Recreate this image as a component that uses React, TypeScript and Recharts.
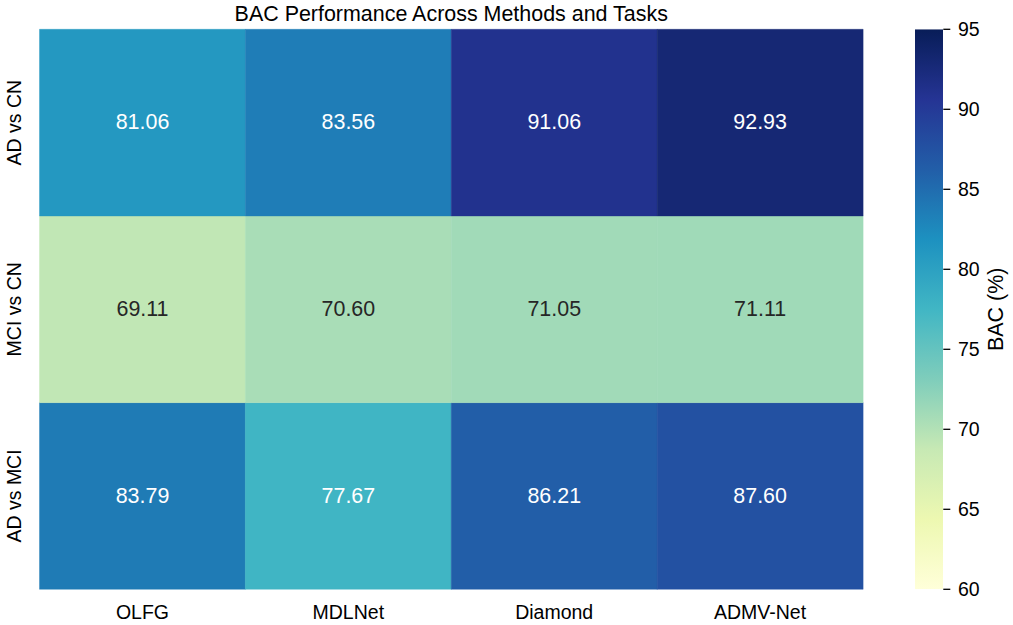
import React from 'react';
import { BarChart, Bar, XAxis, YAxis, Cell, LabelList, Label } from 'recharts';

// ---- data ----
const methods = ['OLFG', 'MDLNet', 'Diamond', 'ADMV-Net'];
const tasks = ['AD vs CN', 'MCI vs CN', 'AD vs MCI'];
const bacADvsCN = [81.06, 83.56, 91.06, 92.93];
const bacMCIvsCN = [69.11, 70.6, 71.05, 71.11];
const bacADvsMCI = [83.79, 77.67, 86.21, 87.6];
const colorbarTicks = [60, 65, 70, 75, 80, 85, 90, 95];
const vmin = 60;
const vmax = 95;
const title = 'BAC Performance Across Methods and Tasks';
const cbarLabel = 'BAC (%)';

// YlGnBu colormap anchor colours
const ylgnbu = ['#ffffd9', '#edf8b1', '#c7e9b4', '#7fcdbb', '#41b6c4', '#1d91c0', '#225ea8', '#253494', '#081d58'];

const FONT = '"Liberation Sans", Arial, Helvetica, sans-serif';

function hexToRgb(h: string): number[] {
  return [parseInt(h.slice(1, 3), 16), parseInt(h.slice(3, 5), 16), parseInt(h.slice(5, 7), 16)];
}
function colorRgb(v: number): number[] {
  let t = (v - vmin) / (vmax - vmin);
  t = Math.max(0, Math.min(1, t));
  const n = ylgnbu.length - 1;
  const i = Math.min(n - 1, Math.floor(t * n));
  const f = t * n - i;
  const a = hexToRgb(ylgnbu[i]);
  const b = hexToRgb(ylgnbu[i + 1]);
  return a.map((c, k) => c + (b[k] - c) * f);
}
function colorFor(v: number): string {
  const [r, g, b] = colorRgb(v);
  return `rgb(${Math.round(r)},${Math.round(g)},${Math.round(b)})`;
}
function textColorFor(v: number): string {
  const lin = colorRgb(v).map((c) => {
    const s = c / 255;
    return s <= 0.03928 ? s / 12.92 : Math.pow((s + 0.055) / 1.055, 2.4);
  });
  const L = 0.2126 * lin[0] + 0.7152 * lin[1] + 0.0722 * lin[2];
  return L > 0.408 ? '#262626' : '#ffffff';
}

const table = methods.map((m, i) => ({
  method: m,
  r0: bacADvsCN[i],
  r1: bacMCIvsCN[i],
  r2: bacADvsMCI[i],
  b0: 1,
  b1: 1,
  b2: 1,
}));

const cbData = [{ name: 'cbar', range: [vmin, vmax] }];

const ValueLabel = (props: any) => {
  const { x, y, width, height, value } = props;
  if (value == null) return null;
  return (
    <text
      x={Number(x) + Number(width) / 2}
      y={Number(y) + Number(height) / 2 + 6.8}
      textAnchor="middle"
      fontSize={21.45}
      fontFamily={FONT}
      fill={textColorFor(Number(value))}
    >
      {Number(value).toFixed(2)}
    </text>
  );
};

const YTick = (props: any) => {
  const { x, y, payload } = props;
  const idx = 2 - Math.floor(payload.value);
  return (
    <text
      transform={`translate(${x - 18.2},${y}) rotate(-90)`}
      textAnchor="middle"
      fontSize={19.5}
      fontFamily={FONT}
      fill="#000"
    >
      {tasks[idx]}
    </text>
  );
};

const XTick = (props: any) => {
  const { x, y, payload } = props;
  return (
    <text x={x} y={y + 29.7} textAnchor="middle" fontSize={19.5} fontFamily={FONT} fill="#000">
      {payload.value}
    </text>
  );
};

const CbLabel = (props: any) => {
  const vb = props.viewBox || {};
  const cx = (vb.x ?? 943.3) + 59.7;
  const cy = (vb.y ?? 29.3) + (vb.height ?? 560) / 2;
  return (
    <text
      transform={`translate(${cx},${cy}) rotate(-90)`}
      textAnchor="middle"
      fontSize={21.45}
      fontFamily={FONT}
      fill="#000"
    >
      {cbarLabel}
    </text>
  );
};

const rowBars = [
  { key: 'b2', val: 'r2' },
  { key: 'b1', val: 'r1' },
  { key: 'b0', val: 'r0' },
];

export default function App() {
  return (
    <div style={{ position: 'absolute', left: 0, top: 0, width: 1013, height: 625, background: '#fff', fontFamily: FONT }}>
      <div style={{ position: 'absolute', left: 0, top: 0 }}>
        <BarChart
          width={1013}
          height={625}
          data={table}
          margin={{ top: 29.3, right: 150, bottom: 0, left: 0 }}
          barCategoryGap={0}
          barGap={0}
        >
          <XAxis
            dataKey="method"
            type="category"
            height={35.7}
            axisLine={false}
            tickLine={false}
            tickSize={0}
            tickMargin={0}
            tick={<XTick />}
            interval={0}
          />
          <YAxis
            type="number"
            domain={[0, 3]}
            ticks={[0.5, 1.5, 2.5]}
            width={39.5}
            axisLine={false}
            tickLine={false}
            tickSize={0}
            tickMargin={0}
            tick={<YTick />}
            interval={0}
          />
          {rowBars.map((rb) => (
            <Bar key={rb.key} dataKey={rb.key} stackId="rows" isAnimationActive={false}>
              {table.map((d: any, i) => (
                <Cell key={i} fill={colorFor(d[rb.val])} stroke={colorFor(d[rb.val])} strokeWidth={0.4} />
              ))}
              <LabelList dataKey={rb.val} content={<ValueLabel />} />
            </Bar>
          ))}
        </BarChart>
      </div>
      <div style={{ position: 'absolute', left: 0, top: 0 }}>
        <BarChart
          width={1013}
          height={625}
          data={cbData}
          margin={{ top: 29.3, right: 0, bottom: 35.7, left: 915 }}
          barCategoryGap={0}
          barGap={0}
        >
          <defs>
            <linearGradient id="cbGrad" x1="0" y1="1" x2="0" y2="0">
              {ylgnbu.map((c, i) => (
                <stop key={i} offset={`${(i / (ylgnbu.length - 1)) * 100}%`} stopColor={c} />
              ))}
            </linearGradient>
          </defs>
          <XAxis dataKey="name" hide />
          <YAxis
            orientation="right"
            type="number"
            domain={[vmin, vmax]}
            ticks={colorbarTicks}
            width={69.7}
            axisLine={false}
            tickLine={{ stroke: '#000', strokeWidth: 1.3 }}
            tickSize={7}
            tickMargin={7.7}
            tick={{ fontSize: 19.5, fill: '#000', fontFamily: FONT }}
            interval={0}
            allowDataOverflow
          >
            <Label content={<CbLabel />} />
          </YAxis>
          <Bar dataKey="range" fill="url(#cbGrad)" isAnimationActive={false} />
        </BarChart>
      </div>
      <svg width={1013} height={30} style={{ position: 'absolute', left: 0, top: 0 }}>
        <text x={451.25} y={20.7} textAnchor="middle" fontSize={21.45} fontFamily={FONT} fill="#000">
          {title}
        </text>
      </svg>
    </div>
  );
}
